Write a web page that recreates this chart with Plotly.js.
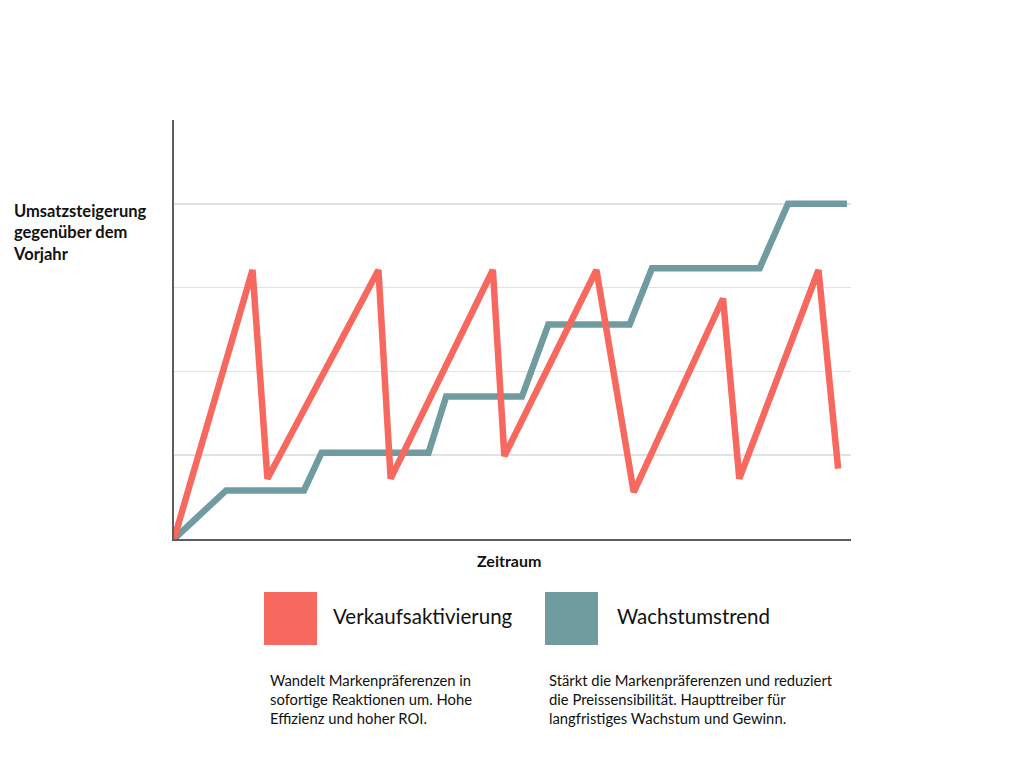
<!DOCTYPE html>
<html>
<head>
<meta charset="utf-8">
<script src="https://cdn.plot.ly/plotly-3.0.1.min.js"></script>
<style>html,body{margin:0;padding:0;background:#fff;}</style>
</head>
<body>
<div id="chart" style="width:1024px;height:765px;"></div>
<script>
// Data (x: relative time 0-100, y: relative sales uplift)
const salesActivationX = [0, 11.6, 13.8, 30.2, 32.0, 47.1, 48.8, 62.4, 67.9, 81.1, 83.5, 95.2, 98.1];
const salesActivationY = [0, 3.21, 0.72, 3.21, 0.72, 3.21, 0.99, 3.21, 0.56, 2.87, 0.72, 3.21, 0.84];
const growthTrendX = [0, 7.7, 19.2, 21.8, 37.6, 40.2, 51.4, 55.3, 67.3, 70.6, 86.5, 90.7, 99.4];
const growthTrendY = [0, 0.58, 0.58, 1.03, 1.03, 1.70, 1.70, 2.56, 2.56, 3.23, 3.23, 4.0, 4.0];
const seriesNames = ["Verkaufsaktivierung", "Wachstumstrend"];
const seriesDescriptions = [
  "Wandelt Markenpräferenzen in<br>sofortige Reaktionen um. Hohe<br>Effizienz und hoher ROI.",
  "Stärkt die Markenpräferenzen und reduziert<br>die Preissensibilität. Haupttreiber für<br>langfristiges Wachstum und Gewinn."
];
const yTitle = "Umsatzsteigerung<br>gegenüber dem<br>Vorjahr";
const xTitle = "Zeitraum";

const RED = "#F7685E";
const TEAL = "#709C9F";

const W = 1024, H = 765;
const M = {l: 174, r: 173, t: 120, b: 226};
const pw = W - M.l - M.r, ph = H - M.t - M.b;
const px = x => (x - M.l) / pw;
const py = y => (H - M.b - y) / ph;

const traces = [
  {x: growthTrendX, y: growthTrendY, name: seriesNames[1], type: "scatter", mode: "lines",
   line: {color: TEAL, width: 6.5, shape: "linear"}, hoverinfo: "skip"},
  {x: salesActivationX, y: salesActivationY, name: seriesNames[0], type: "scatter", mode: "lines",
   line: {color: RED, width: 6.5, shape: "linear"}, hoverinfo: "skip"}
];

const font = "Lato, 'Open Sans', sans-serif";

const layout = {
  width: W, height: H,
  margin: M,
  paper_bgcolor: "#fff", plot_bgcolor: "#fff",
  showlegend: false,
  xaxis: {range: [0, 100], showgrid: false, zeroline: false, showticklabels: false, ticks: "",
          showline: true, linecolor: "#5a5e63", linewidth: 2},
  yaxis: {range: [0, 5], dtick: 1, showgrid: true, gridcolor: "#e2e2e2", gridwidth: 1.5,
          zeroline: false, showticklabels: false, ticks: "",
          showline: true, linecolor: "#5a5e63", linewidth: 2},
  shapes: [
    {type: "rect", xref: "paper", yref: "paper", x0: px(264), x1: px(317), y0: py(645), y1: py(592),
     fillcolor: RED, line: {width: 0}},
    {type: "rect", xref: "paper", yref: "paper", x0: px(545), x1: px(598), y0: py(645), y1: py(592),
     fillcolor: TEAL, line: {width: 0}}
  ],
  annotations: [
    {xref: "paper", yref: "paper", x: px(11), y: py(232), xanchor: "left", yanchor: "middle", align: "left",
     text: "<b>" + yTitle + "</b>", showarrow: false, font: {family: font, size: 16.5, color: "#111"}},
    {xref: "paper", yref: "paper", x: px(509), y: py(560), xanchor: "center", yanchor: "middle",
     text: "<b>" + xTitle + "</b>", showarrow: false, font: {family: font, size: 16, color: "#111"}},
    {xref: "paper", yref: "paper", x: px(331), y: py(616), xanchor: "left", yanchor: "middle",
     text: seriesNames[0], showarrow: false, font: {family: font, size: 20.5, color: "#111"}},
    {xref: "paper", yref: "paper", x: px(615), y: py(616), xanchor: "left", yanchor: "middle",
     text: seriesNames[1], showarrow: false, font: {family: font, size: 20.5, color: "#111"}},
    {xref: "paper", yref: "paper", x: px(268), y: py(699), xanchor: "left", yanchor: "middle", align: "left",
     text: seriesDescriptions[0], showarrow: false, font: {family: font, size: 14.8, color: "#111"}},
    {xref: "paper", yref: "paper", x: px(547), y: py(699), xanchor: "left", yanchor: "middle", align: "left",
     text: seriesDescriptions[1], showarrow: false, font: {family: font, size: 14.8, color: "#111"}}
  ]
};

Plotly.newPlot("chart", traces, layout, {staticPlot: true, displayModeBar: false});
</script>
</body>
</html>
